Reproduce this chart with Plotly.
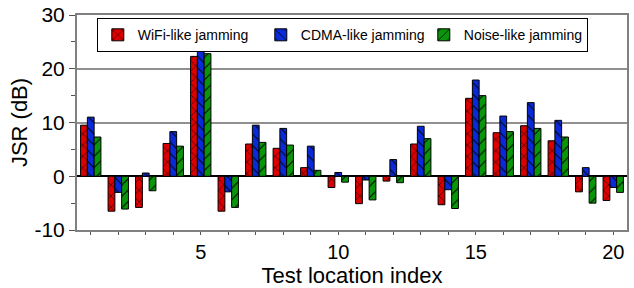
import plotly.graph_objects as go

locations = list(range(1, 21))
wifi = [9.5, -6.5, -5.8, 6.1, 22.3, -6.5, 6.0, 5.2, 1.6, -2.1,
        -5.1, -0.9, 6.0, -5.3, 14.5, 8.1, 9.4, 6.6, -2.9, -4.5]
cdma = [11.0, -3.0, 0.6, 8.3, 26.0, -2.9, 9.5, 8.9, 5.6, 0.7,
        -0.7, 3.1, 9.3, -2.5, 17.9, 11.2, 13.7, 10.4, 1.6, -2.1]
noise = [7.3, -6.1, -2.7, 5.6, 22.8, -5.8, 6.3, 5.8, 1.1, -1.1,
         -4.4, -1.2, 7.0, -6.0, 15.0, 8.3, 8.9, 7.3, -5.0, -3.0]
y_ticks = [-10, 0, 10, 20, 30]
y_ticklabels = ["-10", "0", "10", "20", "30"]
x_ticks = [5, 10, 15, 20]

series = [
    ("WiFi-like jamming", wifi, "#dd0000", "x"),
    ("CDMA-like jamming", cdma, "#0a2ad8", "\\"),
    ("Noise-like jamming", noise, "#0a960a", "/"),
]

fig = go.Figure()
for name, vals, col, shp in series:
    fig.add_trace(go.Bar(
        x=locations, y=vals, name=name,
        marker=dict(color=col, line=dict(color="black", width=1),
                    pattern=dict(shape=shp, fgcolor="black", bgcolor=col,
                                 size=8, solidity=0.12, fillmode="replace")),
    ))

font = "Liberation Sans, Arial, sans-serif"
fig.update_layout(
    width=634, height=288,
    margin=dict(l=77, r=7, t=15, b=58),
    paper_bgcolor="white", plot_bgcolor="white",
    barmode="group", bargap=0.26, bargroupgap=0,
    font=dict(family=font, color="black", size=20),
    showlegend=True,
    legend=dict(orientation="h", x=0.036, y=0.985, xanchor="left", yanchor="top",
                bgcolor="white", bordercolor="black", borderwidth=1,
                font=dict(size=14), entrywidth=118, itemwidth=30,
                tracegroupgap=0),
    xaxis=dict(range=[0.5, 20.5], tickvals=x_ticks,
               ticks="outside", ticklen=3, tickcolor="#555",
               minor=dict(dtick=1, tick0=0, ticks="outside", ticklen=3, tickcolor="#555"),
               showline=True, linecolor="#808080", linewidth=2, mirror=True,
               showgrid=False, zeroline=False, automargin=False,
               title=dict(text="Test location index", font=dict(size=22), standoff=2),
               tickfont=dict(size=20)),
    yaxis=dict(range=[-10, 30], tickvals=y_ticks, ticktext=y_ticklabels,
               ticks="outside", ticklen=6, tickcolor="#555",
               minor=dict(dtick=5, ticks="outside", ticklen=4, tickcolor="#555", showgrid=False),
               showline=True, linecolor="#808080", linewidth=2, mirror=True,
               showgrid=True, gridcolor="#909090", gridwidth=1.5,
               zeroline=True, zerolinecolor="black", zerolinewidth=1.5,
               automargin="left",
               title=dict(text="JSR (dB)", font=dict(size=22), standoff=1),
               tickfont=dict(size=21)),
)

fig.write_html("out.html", config={"displayModeBar": False},
               post_script="document.body.style.margin='0';document.body.style.overflow='hidden';")
